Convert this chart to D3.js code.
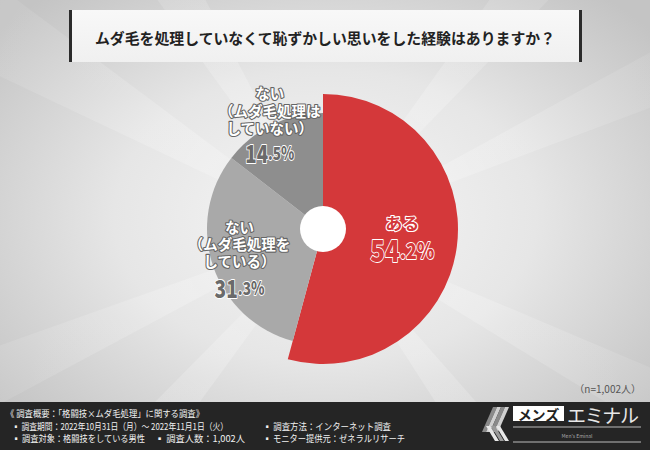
<!DOCTYPE html>
<html><head><meta charset="utf-8">
<script src="https://cdn.jsdelivr.net/npm/d3@7"></script>
<style>
html,body{margin:0;padding:0;background:#ddd;}
svg{display:block;}
text{font-family:"Noto Sans CJK JP","Noto Sans",sans-serif;}
</style></head>
<body>
<script>
const title = "ムダ毛を処理していなくて恥ずかしい思いをした経験はありますか？";
const categories = ["ある", "ない（ムダ毛処理をしている）", "ない（ムダ毛処理はしていない）"];
const labelLines = [["ある"], ["ない", "（ムダ毛処理を", "している）"], ["ない", "（ムダ毛処理は", "していない）"]];
const values = [54.2, 31.3, 14.5];
const sampleNote = "（n=1,002人）";
const footerHead = "《 調査概要：「格闘技×ムダ毛処理」に関する調査》";
const footerItems = [
  ["▪ 調査期間：2022年10月31日（月）～ 2022年11月1日（火）", "▪ 調査方法：インターネット調査"],
  ["▪ 調査対象：格闘技をしている男性", "▪ 調査人数：1,002人", "▪ モニター提供元：ゼネラルリサーチ"]
];

const W = 650, H = 450;
const svg = d3.select("body").append("svg").attr("width", W).attr("height", H);
const defs = svg.append("defs");

// background
const bg = defs.append("radialGradient").attr("id","bg").attr("cx","50%").attr("cy","48%").attr("r","65%");
bg.append("stop").attr("offset","0%").attr("stop-color","#f6f6f6");
bg.append("stop").attr("offset","50%").attr("stop-color","#e6e6e6");
bg.append("stop").attr("offset","100%").attr("stop-color","#c4c4c4");
svg.append("rect").attr("width",W).attr("height",H).attr("fill","url(#bg)");

// light rays
const rayG = defs.append("radialGradient").attr("id","ray").attr("gradientUnits","userSpaceOnUse")
  .attr("cx",325).attr("cy",230).attr("r",420);
rayG.append("stop").attr("offset","0%").attr("stop-color","#fff").attr("stop-opacity",0.0);
rayG.append("stop").attr("offset","35%").attr("stop-color","#fff").attr("stop-opacity",0.22);
rayG.append("stop").attr("offset","100%").attr("stop-color","#fff").attr("stop-opacity",0.05);
const rayAngles = [[-2.7,-2.5],[-2.2,-2.05],[-0.95,-0.8],[-0.5,-0.36],[0.4,0.55],[0.85,1.0],[2.2,2.35],[2.65,2.8]];
const rays = svg.append("g");
rayAngles.forEach(([a0,a1]) => {
  const cx = 325, cy = 230, R = 700;
  rays.append("path")
    .attr("d", `M${cx},${cy}L${cx+R*Math.cos(a0)},${cy+R*Math.sin(a0)}L${cx+R*Math.cos(a1)},${cy+R*Math.sin(a1)}Z`)
    .attr("fill","url(#ray)");
});

// title box
const tb = defs.append("linearGradient").attr("id","tb").attr("x1",0).attr("y1",0).attr("x2",0).attr("y2",1);
tb.append("stop").attr("offset","0%").attr("stop-color","#f8f8f8");
tb.append("stop").attr("offset","100%").attr("stop-color","#f0f0f0");
svg.append("rect").attr("x",70).attr("y",10).attr("width",511).attr("height",52).attr("fill","url(#tb)");
svg.append("rect").attr("x",69).attr("y",10).attr("width",3).attr("height",52).attr("fill","#2b2b2b");
svg.append("rect").attr("x",579).attr("y",10).attr("width",3).attr("height",52).attr("fill","#2b2b2b");
svg.append("text").attr("x",325).attr("y",37).attr("text-anchor","middle").attr("dominant-baseline","central")
  .attr("font-size",15).attr("font-weight",700).attr("fill","#222")
  .attr("textLength",460).attr("lengthAdjust","spacingAndGlyphs").text(title);

// pie
const cx = 323, cy = 229;
const colors = ["#d4383a", "#a9a9a9", "#8e8e8e"];
const outerR = i => i === 0 ? 135 : 116;
const labelR = [80, 88, 121];
const pie = d3.pie().sort(null).value(d => d)(values);
const g = svg.append("g").attr("transform", `translate(${cx},${cy})`);
g.selectAll("path.slice").data(pie).join("path").attr("class","slice")
  .attr("d", d => d3.arc().innerRadius(0).outerRadius(outerR(d.index))(d))
  .attr("fill", (d,i) => colors[i]);
g.append("circle").attr("r",23).attr("fill","#fff");

// labels
const lineOffsets = [[-17], [-30, -13, 4], [-28, -10, 7]];
const pctOffsets = [9, 30, 32];
const pctWidths = [64, 50, 49];
pie.forEach((d, i) => {
  const mid = (d.startAngle + d.endAngle) / 2;
  const r = labelR[i];
  const x = Math.sin(mid) * r, y = -Math.cos(mid) * r;
  const lg = g.append("g").attr("transform", `translate(${x},${y})`);
  const isRed = i === 0;
  labelLines[i].forEach((ln, k) => {
    lg.append("text").attr("x", 0).attr("y", lineOffsets[i][k])
      .attr("text-anchor","middle").attr("dominant-baseline","central")
      .attr("font-size", isRed ? 17 : 14.5).attr("font-weight",700)
      .attr("fill", isRed ? "#d4383a" : "#fff")
      .attr("stroke", isRed ? "#fff" : "#666").attr("stroke-width", 2.2)
      .attr("stroke-linejoin","round").attr("paint-order","stroke")
      .text(ln);
  });
  const parts = d3.format(".1f")(values[i]).split(".");
  const t = lg.append("text").attr("x", -pctWidths[i] / 2).attr("y", pctOffsets[i])
    .attr("dominant-baseline","central")
    .attr("font-weight",900).attr("font-family","Roboto, 'Noto Sans', sans-serif")
    .attr("textLength", pctWidths[i]).attr("lengthAdjust","spacingAndGlyphs")
    .attr("fill", isRed ? "#d4383a" : "#6a6a6a")
    .attr("stroke", "#fff").attr("stroke-width", 1.8)
    .attr("stroke-linejoin","round").attr("paint-order","stroke");
  t.append("tspan").attr("font-size", isRed ? 30 : 25).text(parts[0]);
  t.append("tspan").attr("font-size", isRed ? 22 : 18).text("." + parts[1] + "%");
});

// sample note
svg.append("text").attr("x",641).attr("y",388).attr("text-anchor","end").attr("dominant-baseline","central")
  .attr("font-size",10).attr("fill","#555").text(sampleNote);

// footer
svg.append("rect").attr("x",0).attr("y",402).attr("width",W).attr("height",48).attr("fill","#252525");
const ft = svg.append("g").attr("fill","#f0f0f0").attr("font-size",9.5);
ft.append("text").attr("x",6).attr("y",413).attr("dominant-baseline","central")
  .attr("textLength",198).attr("lengthAdjust","spacingAndGlyphs").text(footerHead);
const colX = [[12, 263], [12, 155, 263]];
const colW = [[216, 128], [133, 90, 142]];
const rowY = [426, 438];
footerItems.forEach((row, r) => row.forEach((txt, c) => {
  ft.append("text").attr("x", colX[r][c]).attr("y", rowY[r]).attr("dominant-baseline","central")
    .attr("textLength", colW[r][c]).attr("lengthAdjust","spacingAndGlyphs").text(txt);
}));

// logo
const lg = svg.append("g");
[0,1,2,3].forEach(k => {
  lg.append("path")
    .attr("d", `M${493+k*4},407 L${497+k*4},407 L${486+k*4},432 L${482+k*4},432 Z`)
    .attr("fill", k % 2 ? "#d0d0d0" : "#8a8a8a");
});
[0,1,2].forEach(k => {
  lg.append("path")
    .attr("d", `M${486+k*5},426 L${490+k*5},426 L${499+k*5},441 L${495+k*5},441 Z`)
    .attr("fill", k % 2 ? "#9a9a9a" : "#e8e8e8");
});
lg.append("rect").attr("x",513).attr("y",406).attr("width",51).attr("height",15).attr("fill","#fff");
lg.append("text").attr("x",538.5).attr("y",413.5).attr("text-anchor","middle").attr("dominant-baseline","central")
  .attr("font-size",14).attr("font-weight",700).attr("fill","#222").text("メンズ");
lg.append("text").attr("x",567).attr("y",414).attr("dominant-baseline","central")
  .attr("font-size",19).attr("fill","#e8e8e8").attr("textLength",72).text("エミナル");
lg.append("line").attr("x1",513).attr("x2",641).attr("y1",427).attr("y2",427).attr("stroke","#8a8a8a").attr("stroke-width",1.5);
lg.append("text").attr("x",577).attr("y",435).attr("text-anchor","middle").attr("dominant-baseline","central")
  .attr("font-size",5).attr("fill","#aaa").attr("font-family","DejaVu Sans Mono, monospace").text("Men's Eminal");
lg.append("line").attr("x1",513).attr("x2",641).attr("y1",442).attr("y2",442).attr("stroke","#8a8a8a").attr("stroke-width",1.5);
</script>
</body></html>
